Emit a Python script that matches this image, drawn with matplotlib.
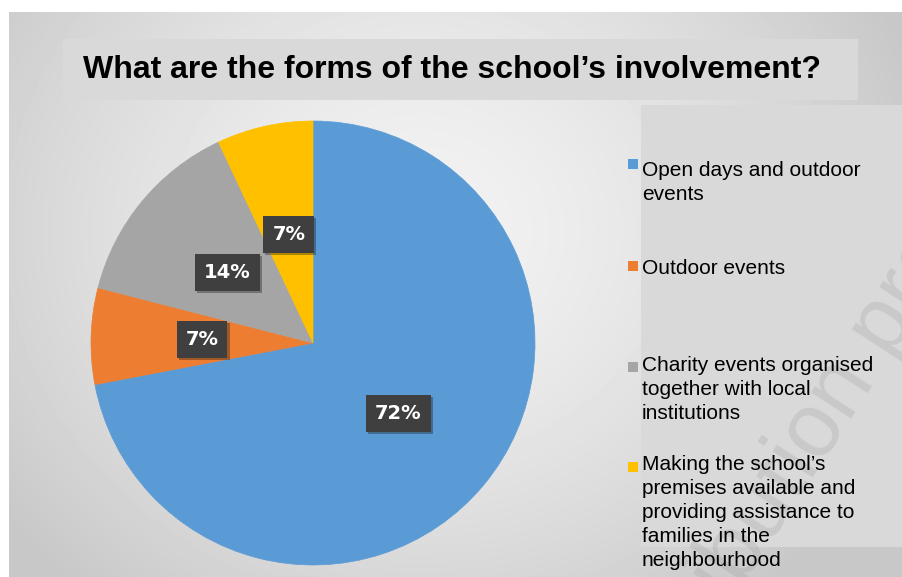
import numpy as np
import matplotlib
matplotlib.use('Agg')
import matplotlib.pyplot as plt  # noqa E402
import matplotlib.patheffects as pe  # noqa E402
from matplotlib.patches import Rectangle  # noqa E402

# survey answers (share of schools, %)
categories = ["Open days and outdoor\nevents",
              "Outdoor events",
              "Charity events organised\ntogether with local\ninstitutions",
              "Making the school\u2019s\npremises available and\n"
              "providing assistance to\nfamilies in the\nneighbourhood"]
shares = [72, 7, 14, 7]
colors = ["#5B9BD5", "#ED7D31", "#A5A5A5", "#FFC000"]
title = "What are the forms of the school\u2019s involvement?"

W, H = 903, 577
fig = plt.figure(figsize=(W / 100, H / 100), dpi=100)
fig.patch.set_facecolor("white")

# full-figure axes in pixel units (y pointing down) for the decoration
bg = fig.add_axes([0, 0, 1, 1], zorder=0)
bg.axis("off")

# soft radial background of the chart area
xs, ys = np.meshgrid(np.arange(9, W), np.arange(12, H))
d = np.sqrt(((xs - 420) / 420.0) ** 2 + ((ys - 230) / 380.0) ** 2)
shade = 0.95 - 0.12 * np.clip(d, 0, 1.25) ** 1.5
bg.imshow(shade, cmap="gray", vmin=0, vmax=1, extent=(9, W, H, 12),
          aspect="auto", interpolation="bilinear")
bg.set_xlim(0, W)
bg.set_ylim(H, 0)

# title band
bg.add_patch(Rectangle((63, 39), 795, 61, facecolor="#d9d9d9",
                       edgecolor="none"))
bg.text(83, 70, title, ha="left", va="center", fontsize=23,
        fontweight="bold", family="Liberation Sans", color="black")

# legend panel
bg.add_patch(Rectangle((641, 105), W - 641, 442, facecolor="#d9d9d9",
                       edgecolor="none"))

bg.text(630, 760, "Distribution prohibited", rotation=57,
        rotation_mode="anchor", ha="left", va="baseline", fontsize=65,
        family="Liberation Sans", color="#9a9a9a", alpha=0.25)

baselines = [176, 274, 371, 470]
marker_mid = [164, 266, 367, 467]
for cat, col, yb, ym in zip(categories, colors, baselines, marker_mid):
    bg.add_patch(Rectangle((628, ym - 5), 10, 10, facecolor=col,
                           edgecolor="none"))
    bg.text(642, yb - 15, cat, ha="left", va="top", fontsize=15,
            family="Liberation Sans", color="black", linespacing=1.34)

# pie: centre at (313, 343) px, radius 222 px
cx, cy, r = 313, 343, 222
ax = fig.add_axes([(cx - r) / W, (H - cy - r) / H, 2 * r / W, 2 * r / H],
                  zorder=1)
wedges, _, autotexts = ax.pie(shares, colors=colors, startangle=90,
                              counterclock=False, autopct="%.0f%%",
                              pctdistance=0.5,
                              wedgeprops=dict(linewidth=0.5))
for w, c in zip(wedges, colors):
    w.set_edgecolor(c)
for t in autotexts:
    t.set_color("white")
    t.set_fontsize(14)
    t.set_fontweight("bold")
    t.set_family("DejaVu Sans")
    t.set_bbox(dict(boxstyle="square,pad=0.46", facecolor="#3f3f3f",
                    edgecolor="none"))
    t.get_bbox_patch().set_path_effects(
        [pe.SimplePatchShadow(offset=(1.5, -1.5), alpha=0.35),
         pe.Normal()])
ax.set_xlim(-1, 1)
ax.set_ylim(-1, 1)
ax.axis("off")

fig.savefig("out.png", dpi=100)
plt.close(fig)
